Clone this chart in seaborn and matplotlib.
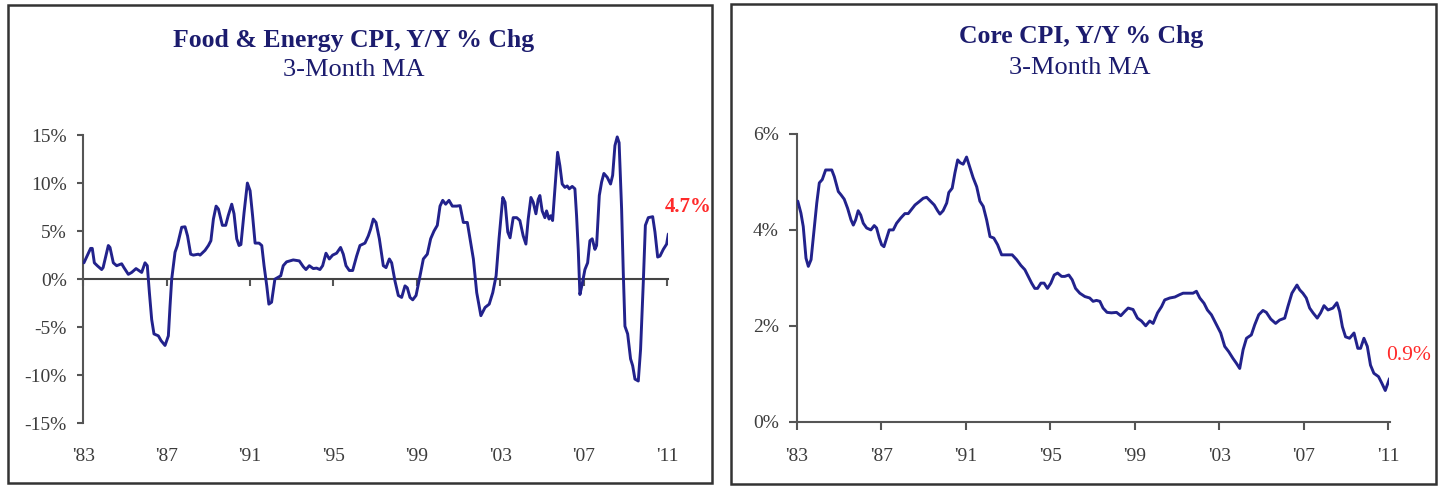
import matplotlib
matplotlib.use('Agg')
import matplotlib.pyplot as plt
import seaborn as sns
import pandas as pd
from matplotlib.patches import Rectangle

# ---------------- data ----------------
fe_years = [1983.03, 1983.16, 1983.35, 1983.43, 1983.53, 1983.67, 1983.88, 1983.95, 1984.2, 1984.28,
            1984.44, 1984.6, 1984.84, 1984.95, 1985.16, 1985.32, 1985.53, 1985.8, 1985.96, 1986.07,
            1986.17, 1986.28, 1986.39, 1986.6, 1986.73, 1986.92, 1987.08, 1987.16, 1987.24, 1987.4,
            1987.51, 1987.72, 1987.88, 1988.0, 1988.15, 1988.28, 1988.52, 1988.6, 1988.84, 1989.0,
            1989.12, 1989.24, 1989.37, 1989.48, 1989.67, 1989.83, 1989.95, 1990.12, 1990.23, 1990.36,
            1990.47, 1990.56, 1990.71, 1990.87, 1991.0, 1991.12, 1991.24, 1991.43, 1991.56, 1991.67,
            1991.8, 1991.9, 1992.03, 1992.19, 1992.35, 1992.47, 1992.59, 1992.75, 1993.07, 1993.36,
            1993.55, 1993.68, 1993.84, 1994.03, 1994.19, 1994.35, 1994.48, 1994.64, 1994.8, 1994.96,
            1995.15, 1995.34, 1995.47, 1995.6, 1995.76, 1995.92, 1996.11, 1996.27, 1996.51, 1996.67,
            1996.78, 1996.91, 1997.04, 1997.2, 1997.39, 1997.52, 1997.68, 1997.79, 1997.95, 1998.11,
            1998.27, 1998.43, 1998.54, 1998.67, 1998.8, 1998.96, 1999.12, 1999.31, 1999.5, 1999.66,
            1999.82, 1999.98, 2000.11, 2000.24, 2000.38, 2000.54, 2000.7, 2000.91, 2001.07, 2001.23,
            2001.42, 2001.71, 2001.87, 2002.07, 2002.27, 2002.47, 2002.64, 2002.8, 2002.94, 2003.12,
            2003.23, 2003.36, 2003.47, 2003.62, 2003.79, 2003.94, 2004.1, 2004.23, 2004.34, 2004.47,
            2004.58, 2004.71, 2004.82, 2004.9, 2005.01, 2005.14, 2005.22, 2005.34, 2005.42, 2005.51,
            2005.62, 2005.75, 2005.86, 2005.97, 2006.1, 2006.21, 2006.31, 2006.45, 2006.58, 2006.66,
            2006.74, 2006.82, 2006.93, 2007.06, 2007.19, 2007.3, 2007.41, 2007.54, 2007.62, 2007.75,
            2007.86, 2007.97, 2008.13, 2008.29, 2008.39, 2008.5, 2008.61, 2008.7, 2008.82, 2008.9,
            2008.98, 2009.11, 2009.25, 2009.35, 2009.46, 2009.62, 2009.73, 2009.86, 2009.96, 2010.1,
            2010.31, 2010.42, 2010.55, 2010.66, 2010.82, 2010.98, 2011.06]
fe_values = [1.7, 2.3, 3.2, 3.2, 1.7, 1.4, 1.0, 1.2, 3.5, 3.3,
             1.7, 1.4, 1.6, 1.2, 0.5, 0.7, 1.1, 0.7, 1.7, 1.4,
             -1.4, -4.2, -5.7, -5.9, -6.4, -6.9, -5.9, -2.8, 0.0, 2.8,
             3.5, 5.4, 5.45, 4.5, 2.6, 2.5, 2.6, 2.5, 3.0, 3.5,
             4.0, 6.25, 7.6, 7.3, 5.6, 5.6, 6.6, 7.8, 6.8, 4.2,
             3.5, 3.6, 6.9, 10.0, 9.2, 6.6, 3.75, 3.75, 3.5, 1.4,
             -0.7, -2.6, -2.4, 0.0, 0.2, 0.35, 1.4, 1.8, 2.0, 1.9,
             1.3, 1.0, 1.4, 1.1, 1.15, 1.0, 1.4, 2.7, 2.1, 2.5,
             2.7, 3.3, 2.6, 1.4, 0.9, 0.9, 2.4, 3.5, 3.75, 4.5,
             5.2, 6.25, 5.9, 4.2, 1.4, 1.2, 2.1, 1.7, -0.2, -1.7,
             -1.9, -0.7, -0.9, -1.9, -2.15, -1.7, 0.0, 2.1, 2.6, 4.2,
             5.0, 5.6, 7.6, 8.2, 7.8, 8.2, 7.6, 7.6, 7.65, 5.9,
             5.9, 2.1, -1.4, -3.8, -2.95, -2.6, -1.4, 0.35, 4.2, 8.5,
             8.0, 4.9, 4.3, 6.4, 6.4, 6.1, 4.5, 3.65, 6.25, 8.5,
             8.0, 6.8, 8.3, 8.7, 7.1, 6.4, 7.1, 6.25, 6.6, 6.1,
             9.4, 13.2, 11.8, 9.9, 9.55, 9.7, 9.4, 9.65, 9.4, 6.6,
             3.1, -1.6, -0.5, 1.0, 1.7, 4.0, 4.2, 3.1, 3.5, 8.7,
             10.1, 11.0, 10.6, 9.9, 10.8, 13.9, 14.8, 14.2, 7.3, 0.7,
             -4.9, -5.7, -8.3, -9.0, -10.4, -10.6, -7.3, -0.35, 5.6, 6.4,
             6.5, 4.9, 2.3, 2.4, 3.1, 3.65, 4.7]

core_years = [1983.05, 1983.2, 1983.31, 1983.44, 1983.55, 1983.68, 1983.79, 1983.95, 1984.07, 1984.21,
              1984.37, 1984.66, 1984.78, 1984.97, 1985.1, 1985.25, 1985.41, 1985.57, 1985.68, 1985.79,
              1985.91, 1986.03, 1986.15, 1986.31, 1986.51, 1986.67, 1986.78, 1986.91, 1987.02, 1987.13,
              1987.26, 1987.38, 1987.57, 1987.73, 1987.93, 1988.12, 1988.28, 1988.44, 1988.6, 1988.8,
              1988.99, 1989.15, 1989.31, 1989.51, 1989.67, 1989.78, 1989.93, 1990.1, 1990.2, 1990.36,
              1990.49, 1990.62, 1990.74, 1990.88, 1991.04, 1991.2, 1991.35, 1991.52, 1991.67, 1991.83,
              1991.99, 1992.15, 1992.33, 1992.51, 1992.7, 1992.93, 1993.2, 1993.41, 1993.61, 1993.8,
              1993.96, 1994.12, 1994.27, 1994.4, 1994.56, 1994.71, 1994.87, 1995.03, 1995.19, 1995.35,
              1995.54, 1995.69, 1995.88, 1996.04, 1996.2, 1996.4, 1996.64, 1996.87, 1997.03, 1997.19,
              1997.35, 1997.5, 1997.69, 1997.9, 1998.14, 1998.34, 1998.53, 1998.69, 1998.92, 1999.13,
              1999.32, 1999.52, 1999.71, 1999.87, 2000.08, 2000.27, 2000.42, 2000.66, 2000.9, 2001.13,
              2001.29, 2001.52, 2001.76, 2001.92, 2002.08, 2002.28, 2002.44, 2002.63, 2002.87, 2003.07,
              2003.26, 2003.45, 2003.65, 2003.81, 2003.97, 2004.13, 2004.29, 2004.52, 2004.68, 2004.87,
              2005.07, 2005.23, 2005.44, 2005.67, 2005.86, 2006.1, 2006.25, 2006.44, 2006.68, 2006.81,
              2006.96, 2007.12, 2007.28, 2007.44, 2007.64, 2007.8, 2007.96, 2008.15, 2008.38, 2008.57,
              2008.7, 2008.83, 2008.98, 2009.17, 2009.38, 2009.56, 2009.69, 2009.85, 2010.01, 2010.16,
              2010.32, 2010.54, 2010.7, 2010.86, 2010.98, 2011.06]
core_values = [4.6, 4.35, 4.07, 3.41, 3.24, 3.38, 3.86, 4.56, 4.98, 5.05,
               5.25, 5.25, 5.11, 4.8, 4.73, 4.64, 4.45, 4.21, 4.1, 4.21,
               4.4, 4.31, 4.14, 4.04, 4.0, 4.09, 4.04, 3.83, 3.69, 3.65,
               3.83, 4.0, 4.0, 4.14, 4.25, 4.34, 4.34, 4.43, 4.52, 4.59,
               4.66, 4.68, 4.61, 4.52, 4.4, 4.33, 4.4, 4.56, 4.78, 4.87,
               5.19, 5.46, 5.4, 5.37, 5.52, 5.3, 5.09, 4.9, 4.6, 4.49,
               4.21, 3.86, 3.83, 3.69, 3.48, 3.48, 3.48, 3.38, 3.26, 3.17,
               3.03, 2.89, 2.78, 2.78, 2.89, 2.89, 2.78, 2.89, 3.06, 3.1,
               3.03, 3.03, 3.06, 2.96, 2.78, 2.68, 2.61, 2.58, 2.51, 2.53,
               2.51, 2.37, 2.28, 2.27, 2.28, 2.21, 2.3, 2.37, 2.34, 2.16,
               2.1, 2.0, 2.1, 2.05, 2.27, 2.4, 2.54, 2.58, 2.6, 2.65,
               2.68, 2.68, 2.68, 2.72, 2.58, 2.47, 2.33, 2.23, 2.02, 1.85,
               1.57, 1.46, 1.32, 1.22, 1.11, 1.5, 1.74, 1.81, 2.02, 2.23,
               2.32, 2.28, 2.14, 2.05, 2.12, 2.16, 2.4, 2.68, 2.85, 2.75,
               2.68, 2.58, 2.37, 2.27, 2.16, 2.27, 2.42, 2.33, 2.37, 2.48,
               2.3, 1.98, 1.77, 1.74, 1.85, 1.53, 1.53, 1.74, 1.57, 1.18,
               1.01, 0.94, 0.8, 0.65, 0.8, 0.9]

tick_years = [1983, 1987, 1991, 1995, 1999, 2003, 2007, 2011]
tick_labels = ["'83", "'87", "'91", "'95", "'99", "'03", "'07", "'11"]
fe_yticks = [-15, -10, -5, 0, 5, 10, 15]
fe_ylabels = ["-15%", "-10%", "-5%", "0%", "5%", "10%", "15%"]
core_yticks = [0, 2, 4, 6]
core_ylabels = ["0%", "2%", "4%", "6%"]

fe_title = "Food & Energy CPI, Y/Y % Chg"
core_title = "Core CPI, Y/Y % Chg"
subtitle = "3-Month MA"
fe_last_label = "4.7%"
core_last_label = "0.9%"

# ---------------- style ----------------
sns.set_theme(style='white')
plt.rcParams['font.family'] = ['Liberation Serif', 'DejaVu Serif']

LINE = '#22228c'
AXC = '#555555'
TICKC = '#3c3c3c'
TITLEC = '#1c1c6e'
RED = '#ff2a2a'
TICKFS = 14

W, H = 1442, 486
fig = plt.figure(figsize=(W / 100, H / 100), dpi=100)


def fx(px):
    return px / W


def fy(py):
    return 1 - py / H


fe_df = pd.DataFrame({'year': fe_years, 'value': fe_values})
core_df = pd.DataFrame({'year': core_years, 'value': core_values})

# ---------------- left panel ----------------
ax1 = fig.add_axes([fx(83.3), fy(423.3), (668.1 - 83.3) / W, (423.3 - 135) / H])
sns.lineplot(data=fe_df, x='year', y='value', ax=ax1, color=LINE, linewidth=2.1,
             estimator=None, zorder=3)
ax1.set_xlim(1983, 2011.05)
ax1.set_ylim(-15, 15)
ax1.set_xlabel('')
ax1.set_ylabel('')
for s in ['top', 'right', 'bottom']:
    ax1.spines[s].set_visible(False)
ax1.spines['left'].set_color(AXC)
ax1.spines['left'].set_linewidth(1.5)
ax1.set_xticks(tick_years)
ax1.set_xticklabels(tick_labels)
ax1.set_yticks(fe_yticks)
ax1.set_yticklabels(fe_ylabels)
ax1.tick_params(axis='x', bottom=True, length=0, pad=18, labelsize=TICKFS, labelcolor=TICKC)
ax1.tick_params(axis='y', left=True, direction='out', length=4, width=1.5, color=AXC,
                pad=8, labelsize=TICKFS, labelcolor=TICKC)

sec = ax1.secondary_xaxis(0, transform=ax1.transData)
sec.set_xticks(tick_years)
sec.tick_params(axis='x', bottom=True, top=False, labelbottom=False, labeltop=False,
                direction='out', length=5, width=1.5, color=AXC)
for s in sec.spines.values():
    s.set_color('#444444')
    s.set_linewidth(1.5)

ax1.text(2010.9, 7.5, fe_last_label, color=RED, fontweight='bold', fontsize=15,
         ha='left', va='center', clip_on=False)

# ---------------- right panel ----------------
ax2 = fig.add_axes([fx(796.7), fy(421.7), (1389.5 - 796.7) / W, (421.7 - 134) / H])
sns.lineplot(data=core_df, x='year', y='value', ax=ax2, color=LINE, linewidth=2.1,
             estimator=None, zorder=3)
ax2.set_xlim(1983, 2011.06)
ax2.set_ylim(0, 6)
ax2.set_xlabel('')
ax2.set_ylabel('')
for s in ['top', 'right']:
    ax2.spines[s].set_visible(False)
for s in ['left', 'bottom']:
    ax2.spines[s].set_color(AXC)
    ax2.spines[s].set_linewidth(1.5)
ax2.set_xticks(tick_years)
ax2.set_xticklabels(tick_labels)
ax2.set_yticks(core_yticks)
ax2.set_yticklabels(core_ylabels)
ax2.tick_params(axis='x', bottom=True, direction='out', length=6, width=1.5, color=AXC,
                pad=13, labelsize=TICKFS, labelcolor=TICKC)
ax2.tick_params(axis='y', left=True, direction='out', length=6, width=1.5, color=AXC,
                pad=7, labelsize=TICKFS, labelcolor=TICKC)
ax2.text(2010.91, 1.39, core_last_label, color=RED, fontsize=15.5,
         ha='left', va='center', clip_on=False)

# ---------------- titles ----------------
fig.text(fx(354), fy(40), fe_title, ha='center', va='center', fontsize=18.5,
         fontweight='bold', color=TITLEC)
fig.text(fx(354), fy(70), subtitle, ha='center', va='center', fontsize=19, color=TITLEC)
fig.text(fx(1081), fy(37), core_title, ha='center', va='center', fontsize=18.5,
         fontweight='bold', color=TITLEC)
fig.text(fx(1080), fy(68), subtitle, ha='center', va='center', fontsize=19, color=TITLEC)

# ---------------- panel frames ----------------
fig.add_artist(Rectangle((fx(8), fy(483)), (712 - 8) / W, (483 - 5) / H,
                         transform=fig.transFigure, fill=False, ec='#333333', lw=1.8))
fig.add_artist(Rectangle((fx(730.7), fy(483.5)), (1435.5 - 730.7) / W, (483.5 - 4.5) / H,
                         transform=fig.transFigure, fill=False, ec='#333333', lw=1.8))

fig.savefig('out.png', dpi=100, facecolor='white')
